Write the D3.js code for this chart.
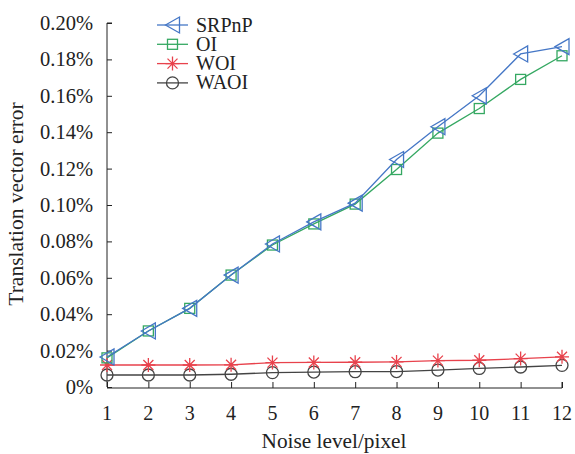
<!DOCTYPE html>
<html>
<head>
<meta charset="utf-8">
<script src="https://cdn.jsdelivr.net/npm/d3@7"></script>
<style>
  body { margin: 0; background: #fff; }
  text { font-family: "Liberation Serif", "Times New Roman", serif; fill: #222; }
</style>
</head>
<body>
<div class="chart"></div>
<script>
var noiseLevels = [1, 2, 3, 4, 5, 6, 7, 8, 9, 10, 11, 12];
var srpnp = [0.0165, 0.0308, 0.0432, 0.0615, 0.0786, 0.0907, 0.1010, 0.1250, 0.1430, 0.1600, 0.1830, 0.1870];
var oi    = [0.0160, 0.0308, 0.0432, 0.0615, 0.0780, 0.0896, 0.1005, 0.1195, 0.1395, 0.1530, 0.1690, 0.1820];
var woi   = [0.0121, 0.0121, 0.0121, 0.0122, 0.0134, 0.0135, 0.0136, 0.0138, 0.0145, 0.0147, 0.0156, 0.0166];
var waoi  = [0.0066, 0.0066, 0.0066, 0.0070, 0.0079, 0.0082, 0.0084, 0.0085, 0.0093, 0.0102, 0.0110, 0.0119];
var yTicks = [0, 0.02, 0.04, 0.06, 0.08, 0.10, 0.12, 0.14, 0.16, 0.18, 0.20];

var series = [
  {name: "SRPnP", values: srpnp, color: "#4577c6", marker: "tri"},
  {name: "OI", values: oi, color: "#35a862", marker: "square"},
  {name: "WOI", values: woi, color: "#e8424c", marker: "star"},
  {name: "WAOI", values: waoi, color: "#444444", marker: "circle"}
];

var width = 575,
    height = 454;

var svg = d3.select(".chart").append("svg")
    .attr("width", width)
    .attr("height", height);

var x = d3.scaleLinear().domain([1, 12]).range([107, 562]);
var y = d3.scaleLinear().domain([0, 0.20]).range([387, 23]);

// axes, ticks pointing inward
var yAxis = svg.append("g")
    .attr("transform", "translate(107,0)")
    .call(d3.axisRight(y).tickValues(yTicks).tickSize(5).tickFormat(""));
yAxis.select(".domain").attr("d", "M5,23H0V387");

var xAxis = svg.append("g")
    .attr("transform", "translate(0,388)")
    .call(d3.axisTop(x).tickValues(noiseLevels).tickSize(6).tickFormat(""));
xAxis.select(".domain").attr("d", "M107,0H562V-6");
svg.selectAll(".tick line").attr("stroke", "#222");
svg.selectAll(".domain").attr("stroke", "#222").attr("fill", "none");

svg.append("g").selectAll("text")
    .data(yTicks)
    .enter().append("text")
    .attr("x", 93)
    .attr("y", function(d) { return y(d) + 7; })
    .attr("text-anchor", "end")
    .attr("font-size", 20.5)
    .text(function(d) { return d === 0 ? "0%" : d.toFixed(2) + "%"; });

svg.append("g").selectAll("text")
    .data(noiseLevels)
    .enter().append("text")
    .attr("x", function(d) { return x(d); })
    .attr("y", 420)
    .attr("text-anchor", "middle")
    .attr("font-size", 20)
    .text(function(d) { return d; });

svg.append("text")
    .attr("x", 334)
    .attr("y", 448)
    .attr("text-anchor", "middle")
    .attr("font-size", 21.3)
    .text("Noise level/pixel");

svg.append("text")
    .attr("transform", "translate(23,204) rotate(-90)")
    .attr("text-anchor", "middle")
    .attr("font-size", 21.5)
    .text("Translation vector error");

function drawMarker(g, type, color) {
  if (type === "tri") {
    g.append("path").attr("d", "M-7,0L7,-8L7,8Z")
      .attr("fill", "none").attr("stroke", color).attr("stroke-width", 1.3);
  } else if (type === "square") {
    g.append("rect").attr("x", -5).attr("y", -5).attr("width", 10).attr("height", 10)
      .attr("fill", "none").attr("stroke", color).attr("stroke-width", 1.3);
  } else if (type === "star") {
    g.append("path").attr("d", "M0,-7V7M-5,-5L5,5M-5,5L5,-5M-7,0H7")
      .attr("fill", "none").attr("stroke", color).attr("stroke-width", 1.3);
  } else {
    g.append("circle").attr("r", 6)
      .attr("fill", "none").attr("stroke", color).attr("stroke-width", 1.3);
  }
}

var line = d3.line()
    .x(function(d, i) { return x(noiseLevels[i]); })
    .y(function(d) { return y(d); });

// draw bottom series first so SRPnP is on top
series.slice().reverse().forEach(function(s) {
  var g = svg.append("g");
  g.append("path")
    .datum(s.values)
    .attr("d", line)
    .attr("fill", "none")
    .attr("stroke", s.color)
    .attr("stroke-width", 1.3);
  g.selectAll("g.pt")
    .data(s.values)
    .enter().append("g")
    .attr("class", "pt")
    .attr("transform", function(d, i) { return "translate(" + x(noiseLevels[i]) + "," + y(d) + ")"; })
    .each(function() { drawMarker(d3.select(this), s.marker, s.color); });
});

// legend
var legend = svg.append("g").attr("transform", "translate(157,25)");
series.forEach(function(s, i) {
  var row = legend.append("g").attr("transform", "translate(0," + (i * 19.3) + ")");
  row.append("line").attr("x1", 0).attr("x2", 31).attr("y1", 0).attr("y2", 0)
    .attr("stroke", s.color).attr("stroke-width", 1.3);
  drawMarker(row.append("g").attr("transform", "translate(15.5,0)"), s.marker, s.color);
  row.append("text").attr("x", 39).attr("y", 6.5)
    .attr("font-size", 20)
    .text(s.name);
});
</script>
</body>
</html>
